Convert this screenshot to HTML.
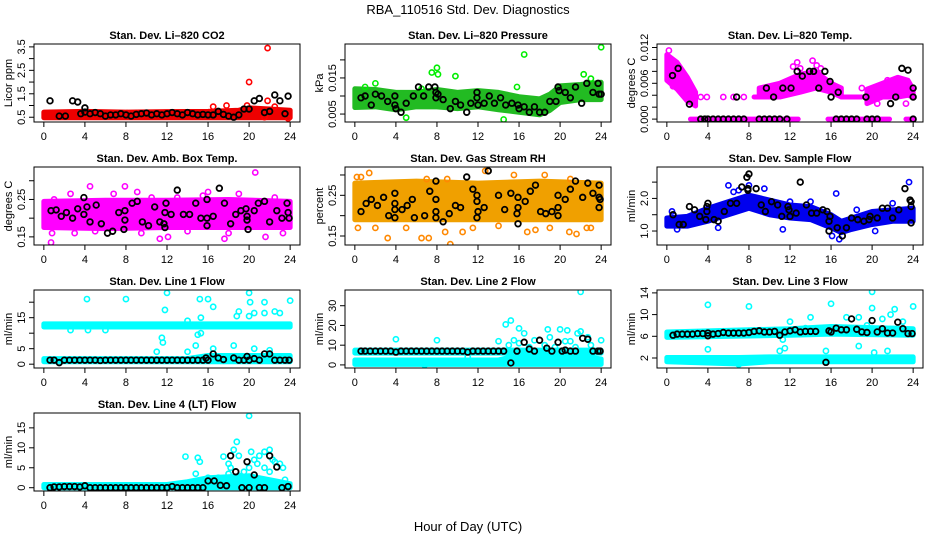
<!DOCTYPE html>
<html><head><meta charset="utf-8"><style>
html,body{margin:0;padding:0;background:#fff;}
svg{display:block;font-family:"Liberation Sans",sans-serif;}
</style></head><body>
<svg id="chart" width="936" height="540" viewBox="0 0 936 540">
<text x="468" y="14" text-anchor="middle" font-size="13">RBA_110516  Std. Dev. Diagnostics</text>
<text x="468" y="531" text-anchor="middle" font-size="13">Hour of Day (UTC)</text>
</svg>
<script>
// ---- data (hour, lo, hi) bands, colored outliers [hour,value], black points [hour,value]
const xTicks = [0,4,8,12,16,20,24];

const co2Band = [[[0,0.48,0.72],[4,0.48,0.75],[8,0.48,0.72],[12,0.48,0.74],[16,0.48,0.75],[19,0.48,0.8],[20,0.48,0.9],[22,0.48,0.85],[24,0.48,0.8]]];
const co2Pts = [[20,2.0],[21.8,3.45],[16.5,0.95],[17.8,1.0],[19.8,1.0],[21.8,1.2],[22.5,0.95],[23.8,0.45],[21.5,0.5]];
const co2Black = [[0.6,1.2],[1.5,0.55],[2.1,0.55],[2.8,1.2],[3.3,1.15],[3.6,0.65],[4,0.9],[4,0.72],[4.5,0.65],[5,0.7],[5.5,0.65],[6,0.55],[6.5,0.6],[7,0.6],[7.5,0.65],[8,0.6],[8.5,0.55],[9,0.62],[9.5,0.65],[10,0.68],[10.5,0.6],[11,0.65],[11.5,0.6],[12,0.65],[12.5,0.7],[13,0.65],[13.5,0.6],[14,0.7],[14.5,0.65],[15,0.6],[15.5,0.62],[16,0.6],[16.5,0.6],[17,0.75],[17.5,0.62],[18,0.55],[18.5,0.5],[19,0.6],[19.5,0.85],[20,0.85],[20.5,1.2],[21,1.3],[21.5,0.7],[22,0.75],[22.5,1.45],[23,1.2],[23.5,0.65],[23.8,1.4]];

const presBand = [[[0,0.0068,0.012],[2,0.007,0.0118],[4,0.0062,0.011],[6,0.007,0.011],[8,0.007,0.0118],[10,0.0065,0.011],[12,0.007,0.0115],[14,0.0062,0.011],[16,0.0055,0.0098],[18,0.0048,0.0092],[19,0.006,0.0105],[20,0.0082,0.0128],[22,0.009,0.0132],[24,0.009,0.0138]]];
const presPts = [[16.5,0.0215],[24,0.0235],[7.5,0.0165],[8,0.0178],[8.1,0.016],[9.8,0.0155],[14.5,0.0035],[5,0.004],[22.3,0.016],[15.8,0.0125],[2,0.0135],[23,0.0148],[1,0.0125],[6.5,0.012]];
const presBlack = [[0.6,0.0095],[1,0.01],[1.6,0.0075],[2,0.0105],[2.6,0.01],[3.2,0.0085],[3.9,0.01],[3.9,0.0075],[4,0.0065],[4.5,0.0055],[5,0.008],[5.7,0.01],[6.2,0.0125],[6.7,0.01],[7.2,0.0125],[7.8,0.0125],[7.9,0.011],[7.9,0.0095],[8.1,0.0105],[8.6,0.009],[9.3,0.0065],[9.8,0.0085],[10.3,0.0075],[10.9,0.0055],[11.3,0.008],[11.9,0.011],[11.9,0.0095],[12,0.0075],[12.6,0.008],[13.1,0.01],[13.6,0.008],[14.2,0.0095],[14.7,0.0075],[15.3,0.008],[15.9,0.0075],[16,0.0065],[16.5,0.007],[17,0.0055],[17.5,0.007],[18,0.0055],[18.5,0.0055],[19,0.0085],[19.6,0.0085],[19.8,0.0125],[19.9,0.0115],[20.5,0.011],[21,0.0095],[21.5,0.0125],[22.1,0.008],[22.6,0.0135],[23.2,0.011],[23.7,0.0135],[23.8,0.0105],[24,0.0105]];

const tempBand = [
 [[0,0.0065,0.0108],[1,0.005,0.0095],[2,0.003,0.007],[2.8,0.0022,0.0045]],
 [[2.3,0,0],[12.8,0,0]],[[15.7,0,0],[21.7,0,0]],[[23.3,0,0],[24,0,0]],
 [[8.5,0.0037,0.0037],[9,0.0037,0.0037]],
 [[9,0.0037,0.0052],[11,0.0037,0.006],[13,0.0045,0.0075],[14.5,0.0052,0.008],[16,0.0045,0.006],[17,0.0037,0.0052]],
 [[17,0.0037,0.0037],[19,0.0037,0.0037]],
 [[19.5,0.0026,0.005],[21,0.0037,0.006],[22.5,0.0037,0.007],[23.5,0.004,0.0065],[24,0.0037,0.005]]];
const tempPts = [[0.2,0.0115],[12.7,0.0095],[14.2,0.0098],[14.6,0.009],[13,0.0085],[0.6,0.0055],[3.3,0.0037],[3.9,0.0037],[5.5,0.0037],[6.5,0.0037],[7.5,0.0037],[20.5,0.0026],[23.3,0.0026],[19,0.0052],[12.3,0.0088],[15,0.0085],[21.5,0.0065]];
const tempBlack = [[0.55,0.0073],[1.1,0.0085],[2.2,0.0025],[6.8,0.0037],[9.7,0.0052],[10.4,0.0037],[11.3,0.0052],[12.1,0.0052],[12.7,0.008],[13.2,0.0072],[13.9,0.008],[14.3,0.008],[14.8,0.0052],[15.4,0.008],[15.9,0.0063],[16,0.0037],[16.7,0.0045],[19.4,0.0037],[21.8,0.0026],[22.3,0.0037],[22.9,0.0085],[23.5,0.0082],[24,0.0052],[24,0.0037],[3.3,0],[3.7,0],[4,0],[4.5,0],[5,0],[5.5,0],[6,0],[6.5,0],[7,0],[7.5,0],[9,0],[9.5,0],[10,0],[10.5,0],[11,0],[11.7,0],[16.5,0],[17,0],[17.5,0],[18,0],[18.5,0],[19.5,0],[20,0],[20.5,0],[24,0]];

const ambBand = [[[0,0.175,0.245],[6,0.172,0.248],[12,0.175,0.248],[18,0.175,0.25],[24,0.175,0.245]]];
const ambPts = [[0.7,0.135],[4.5,0.285],[7.9,0.285],[9.1,0.27],[20.6,0.322],[11.3,0.145],[12.1,0.15],[17.6,0.145],[21.6,0.15],[2.6,0.265],[0.8,0.16],[6.8,0.265],[16,0.27],[14,0.165],[9.5,0.16],[19,0.265],[23.3,0.16],[1,0.25],[3,0.16],[5,0.165],[13,0.255],[22.5,0.255],[10.5,0.255],[18,0.16],[15.5,0.26]];
const ambBlack = [[0.7,0.22],[1.2,0.222],[1.7,0.205],[2.2,0.215],[2.8,0.2],[3.3,0.225],[3.9,0.255],[3.9,0.21],[4.2,0.23],[4.5,0.19],[5.1,0.235],[5.6,0.185],[6.2,0.16],[6.7,0.165],[7.3,0.215],[7.8,0.17],[7.9,0.22],[7.9,0.195],[8.6,0.24],[9.1,0.245],[9.6,0.19],[10.2,0.18],[10.8,0.23],[11.3,0.19],[11.7,0.185],[11.8,0.175],[11.9,0.24],[11.8,0.215],[12.4,0.21],[13,0.275],[13.6,0.21],[14.2,0.21],[14.8,0.24],[15.3,0.2],[15.9,0.25],[15.9,0.2],[15.9,0.18],[16.5,0.205],[17.1,0.28],[17.6,0.24],[18.2,0.185],[18.7,0.21],[19.2,0.22],[19.7,0.225],[19.8,0.205],[19.8,0.195],[19.9,0.17],[20.5,0.22],[20.9,0.24],[21.5,0.245],[22,0.19],[22.7,0.22],[23.2,0.2],[23.7,0.24],[23.8,0.215],[23.9,0.2]];

const rhBand = [[[0,0.19,0.28],[6,0.19,0.285],[12,0.19,0.28],[18,0.19,0.285],[24,0.19,0.28]]];
const rhPts = [[9.3,0.13],[12.7,0.31],[13,0.31],[1.4,0.305],[0.2,0.295],[0.6,0.295],[3.2,0.145],[6.5,0.145],[7.2,0.145],[8.8,0.16],[10.5,0.16],[16.8,0.16],[17.6,0.165],[20.9,0.16],[21.6,0.155],[22.6,0.17],[0.3,0.17],[23,0.17],[18.5,0.3],[9,0.29],[7,0.29],[5,0.17],[14,0.175],[19,0.17],[2,0.17],[11.5,0.17],[15.5,0.3],[21,0.29]];
const rhBlack = [[0.6,0.21],[1.1,0.23],[1.6,0.24],[2.2,0.225],[2.8,0.245],[3.3,0.2],[3.9,0.255],[3.9,0.23],[3.9,0.215],[3.9,0.195],[4.6,0.215],[5.1,0.225],[5.6,0.24],[5.8,0.195],[6.8,0.2],[7.3,0.26],[7.9,0.285],[7.9,0.24],[7.9,0.21],[7.9,0.195],[8.6,0.185],[9.2,0.205],[9.8,0.225],[10.3,0.22],[10.9,0.295],[11.5,0.265],[11.9,0.25],[11.9,0.235],[12,0.21],[11.9,0.195],[12.6,0.22],[13,0.31],[14,0.25],[14.6,0.215],[15.2,0.255],[15.8,0.205],[15.9,0.245],[15.9,0.22],[15.9,0.18],[16.6,0.235],[17.1,0.26],[17.6,0.275],[18.1,0.21],[18.6,0.205],[19.2,0.21],[19.8,0.25],[19.8,0.22],[19.8,0.2],[20.5,0.24],[21,0.265],[21.5,0.285],[22.2,0.245],[22.7,0.28],[23.2,0.255],[23.8,0.275],[23.8,0.245],[23.8,0.22],[23.9,0.24]];

const flowBand = [[[0,1.15,1.4],[2,1.15,1.45],[4,1.3,1.7],[6,1.5,1.9],[8,1.7,2.1],[10,1.5,1.95],[12,1.4,1.8],[14,1.35,1.75],[16,1.1,1.5],[17,0.95,1.3],[18,1.05,1.4],[20,1.2,1.6],[22,1.3,1.65],[24,1.3,1.7]]];
const flowPts = [[6,2.4],[8,2.4],[16.5,2.15],[23.6,2.5],[16.8,0.75],[16.1,0.85],[11.3,1.05],[20.3,1.0],[6.5,2.2],[9.5,2.3],[7,2.25],[5,1.1],[0.5,1.6],[1,1.05],[12,1.9],[14,1.9],[18.5,1.65],[22,1.85]];
const flowBlack = [[0.6,1.5],[1.2,1.2],[1.6,1.2],[2.2,1.75],[2.7,1.65],[3.2,1.45],[3.8,1.35],[3.9,1.6],[3.9,1.75],[4,1.85],[4.6,1.35],[5,1.3],[5.6,1.6],[6.2,1.85],[6.8,1.85],[7.3,2.35],[7.8,2.65],[8,2.75],[7.9,2.3],[7.9,2.25],[8.7,2.3],[9.2,1.8],[9.6,1.6],[10.2,1.9],[10.8,1.8],[11.2,1.45],[11.8,1.75],[11.9,1.65],[12,1.45],[12.6,1.55],[13,2.5],[13.6,1.8],[14.1,1.55],[14.6,1.55],[15.2,1.65],[15.6,1.6],[15.8,1.3],[15.9,1.45],[15.8,1.0],[16.6,1.1],[17.1,0.85],[17.5,1.1],[18,1.4],[18.6,1.35],[19.2,1.3],[19.7,1.35],[19.8,1.45],[20.5,1.4],[21,1.7],[21.5,1.7],[22,1.4],[22.6,1.65],[23.2,2.3],[23.7,1.95],[23.8,1.9],[23.8,1.75],[23.8,1.25]];

const l1Band = [[[0,12,13],[12,12,13],[24,12,13]],[[0,0.8,1.8],[14,0.8,1.8],[16,0.8,2.8],[24,0.8,2.8]]];
const l1Pts = [[4.2,21],[8,21],[12,23],[11.8,17.5],[11.5,8.5],[11.6,7],[11,4],[15.2,21],[16,21],[16.5,18.5],[20,23],[20.1,20],[21.5,20],[22.5,17],[24,20.5],[14,4],[15,9.5],[15.3,10],[14.8,6],[16.5,5],[18.5,6],[19,17],[18.8,15.5],[20,15.5],[20.5,16.5],[21.5,16.5],[23,16.5],[15.3,15],[14,14],[20.5,5],[22,4.5],[2.6,11],[6,11],[4.3,11]];
const l1Black = [[0.6,1.3],[1,1.3],[1.5,0.5],[2,1.3],[2.5,1.3],[3,1.3],[3.5,1.3],[4,1.3],[4.5,1.3],[5,1.3],[5.5,1.2],[6,1.3],[6.5,1.3],[7,1.3],[7.5,1.3],[8,1.3],[8.5,1.3],[9,1.3],[9.5,1.3],[10,1.3],[10.5,1.3],[11,1.3],[11.5,1.3],[12,1.3],[12.5,1.3],[13,1.3],[13.5,1.3],[14,1.3],[14.5,1.3],[15,1.3],[15.5,1.3],[15.8,2],[16,1.3],[16.5,3.3],[17,2],[17.5,1.5],[18.5,2],[19,1.3],[19.5,1.3],[19.8,2.5],[20,1.3],[20.5,1.8],[21,1.3],[21.5,3.3],[22,3.3],[22.5,1.3],[23,1.3],[23.5,1.3],[23.9,1.3]];

const l2Band = [[[0,6,7.5],[12,6,7.5],[24,6,7.5]],[[0,0.3,2.5],[14,0.3,2.5],[16,0.3,5],[20,0.3,6],[24,0.3,3]]];
const l2Pts = [[4,13],[8,12.5],[14.7,20.5],[15.2,22.5],[16,18.5],[16.5,16],[18.8,18],[20,18],[20.7,17.5],[21.7,16],[22,17],[22,37],[24,12.5],[14,12],[15.5,12.5],[17.5,12.5],[19,14],[21,12],[22.7,14],[16,11],[20.5,12],[15,10],[18.5,10],[19.5,9],[21.5,9],[23,10],[17,9],[6.8,0],[11,4]];
const l2Black = [[0.6,7],[1,7],[1.5,7],[2,7],[2.5,7],[3,7],[3.5,7],[4,6.5],[4.5,7],[5,7],[5.5,7],[6,7],[6.5,7],[7,7],[7.5,7],[8,7],[8.5,7],[9,7],[9.5,7],[10,7],[10.5,7],[11,6.5],[11.5,7],[12,7],[12.5,7],[13,7],[13.5,7],[14,7],[14.5,7],[15.2,1],[15.8,7],[16.5,11.5],[17,8],[17.5,7],[18,12.5],[18.7,8.5],[19.2,7],[19.8,11.5],[20.2,7],[20.5,7.5],[21,7],[21.5,7],[22.2,13.5],[22.7,13],[23.2,7],[23.7,7],[23.9,7]];

const l3Band = [[[0,5.8,6.8],[12,6.2,7.4],[16,6.4,7.8],[24,6.2,7.4]],[[0,1.3,2.1],[7,0.9,2.1],[10,1.3,2.2],[24,1.3,2.2]]];
const l3Pts = [[4,11.8],[4,3.6],[8,11.5],[12,8.7],[11,3.3],[11.3,5.4],[11.5,3.8],[14,9.5],[15.5,3.3],[16,12],[17.5,9.5],[18.7,9.5],[18.7,4.2],[20,14.2],[20,11.2],[20.2,3],[21,9.2],[21.8,10],[22.2,11],[21.5,3.3],[23,8.7],[24,11.5],[7,0.8],[13.5,7.5],[19.5,8]];
const l3Black = [[0.6,6.2],[1,6.4],[1.5,6.4],[2,6.4],[2.5,6.4],[3,6.5],[3.5,6.5],[4,6.6],[4,6.1],[4.5,6.4],[5,6.5],[5.5,6.7],[6,6.6],[6.5,6.6],[7,6.6],[7.5,6.6],[8,6.7],[8.5,6.9],[9,7],[9.5,6.8],[10,6.8],[10.5,6.9],[11,6.2],[11.5,6.8],[12,7],[12.5,7.2],[13,6.8],[13.5,6.9],[14,6.9],[14.5,6.9],[15.5,1.2],[15.8,7],[16,6.8],[16.5,7.5],[17,7.2],[17.5,7.2],[18,9.2],[18.5,7.3],[19,6.8],[19.5,6.7],[20,8.9],[20.5,6.8],[21,7.4],[21.5,6.6],[22,6.6],[22.5,8.6],[23,7.4],[23.5,6.5],[23.9,6.5]];

const l4Band = [[[0,0,0.8],[12,0,0.8],[14,0,1.5],[16,0,2.5],[20,0,3],[24,0,1]]];
const l4Pts = [[13.8,7.8],[15,7.5],[15.2,6.5],[14.8,3.5],[17.5,7.8],[18,6],[18.5,9.5],[18.8,11.5],[19,8],[19.5,4],[20,18],[20.2,9],[20.5,7],[21,8],[21.5,9],[22,9.5],[22.5,6.5],[23,6],[23.3,5],[19,3],[20,5],[21.5,5],[22,4],[18,3.5],[17,2.5],[16,2.5],[23.5,2],[21,2],[18.2,5],[20.8,6],[22.3,7]];
const l4Black = [[0.6,0],[1,0.2],[1.5,0.2],[2,0.3],[2.5,0.3],[3,0.3],[3.5,0.2],[4,0.5],[4.5,0],[5,0],[5.5,0],[6,0],[6.5,0],[7,0],[7.5,0],[8,0],[8.5,0],[9,0],[9.5,0],[10,0],[10.5,0],[11,0],[11.5,0],[12,0],[12.5,0.3],[13,0],[13.5,0],[14,0],[14.5,0],[15,0],[15.5,0],[16,1.7],[16.6,1.7],[17.2,0.6],[17.8,0.5],[18.2,8],[18.7,4],[19.3,0],[19.8,6.5],[20,0],[20.5,3.2],[21,0],[21.5,0],[22,8],[22.7,5.2],[23.2,0],[23.8,0.3]];

// ---- panel layout
const colX = [34,345,657], rowY = [44,167,290,413], PW = 266, PH = 78;
const panels = [
 {name:'co2',title:'Stan. Dev. Li\u2013820 CO2',ylab:'Licor ppm',c:0,r:0,ylim:[0.42,3.5],ticks:[0.5,1,1.5,2,2.5,3,3.5],labels:[0.5,1.5,2.5,3.5],fmt:1,color:'#ff0000',fill:'#ee0000',band:co2Band,pts:co2Pts,blk:co2Black},
 {name:'pressure',title:'Stan. Dev. Li\u2013820 Pressure',ylab:'kPa',c:1,r:0,ylim:[0.0036,0.0236],ticks:[0.005,0.01,0.015,0.02],labels:[0.005,0.015],fmt:3,color:'#00ee00',fill:'#22bb22',band:presBand,pts:presPts,blk:presBlack},
 {name:'temp',title:'Stan. Dev. Li\u2013820 Temp.',ylab:'degrees C',c:2,r:0,ylim:[0,0.0121],ticks:[0,0.002,0.004,0.006,0.008,0.01,0.012],labels:[0,0.006,0.012],fmt:3,color:'#ff00ff',fill:'#ff00ff',band:tempBand,pts:tempPts,blk:tempBlack},
 {name:'amb-box-temp',title:'Stan. Dev. Amb. Box Temp.',ylab:'degrees C',c:0,r:1,ylim:[0.136,0.329],ticks:[0.15,0.2,0.25,0.3],labels:[0.15,0.25],fmt:2,color:'#ff00ff',fill:'#ff00ff',band:ambBand,pts:ambPts,blk:ambBlack},
 {name:'gas-stream-rh',title:'Stan. Dev. Gas Stream RH',ylab:'percent',c:1,r:1,ylim:[0.135,0.3125],ticks:[0.15,0.2,0.25,0.3],labels:[0.15,0.25],fmt:2,color:'#ff8800',fill:'#f0a000',band:rhBand,pts:rhPts,blk:rhBlack},
 {name:'sample-flow',title:'Stan. Dev. Sample Flow',ylab:'ml/min',c:2,r:1,ylim:[0.66,2.875],ticks:[1,1.5,2,2.5],labels:[1,2],fmt:1,color:'#0000ff',fill:'#0000ee',band:flowBand,pts:flowPts,blk:flowBlack},
 {name:'line1-flow',title:'Stan. Dev. Line 1 Flow',ylab:'ml/min',c:0,r:2,ylim:[-0.3,23],ticks:[0,5,10,15,20],labels:[0,5,15],fmt:0,color:'#00ffff',fill:'#00ffff',band:l1Band,pts:l1Pts,blk:l1Black},
 {name:'line2-flow',title:'Stan. Dev. Line 2 Flow',ylab:'ml/min',c:1,r:2,ylim:[-0.1,36.5],ticks:[0,10,20,30],labels:[0,10,20,30],fmt:0,color:'#00ffff',fill:'#00ffff',band:l2Band,pts:l2Pts,blk:l2Black},
 {name:'line3-flow',title:'Stan. Dev. Line 3 Flow',ylab:'ml/min',c:2,r:2,ylim:[0.69,14],ticks:[2,6,10,14],labels:[2,6,10,14],fmt:0,color:'#00ffff',fill:'#00ffff',band:l3Band,pts:l3Pts,blk:l3Black},
 {name:'line4-flow',title:'Stan. Dev. Line 4 (LT) Flow',ylab:'ml/min',c:0,r:3,ylim:[-0.1,18],ticks:[0,5,10,15],labels:[0,5,10,15],fmt:0,color:'#00ffff',fill:'#00ffff',band:l4Band,pts:l4Pts,blk:l4Black}
];

const svg = document.getElementById('chart');
const NS = 'http://www.w3.org/2000/svg';
function mk(tag, attrs, parent){const e=document.createElementNS(NS,tag);for(const k in attrs)e.setAttribute(k,attrs[k]);(parent||svg).appendChild(e);return e;}

panels.forEach(p=>{
  const L=colX[p.c], T=rowY[p.r];
  const g = mk('g',{});
  
  
  const padX = PW*0.04/1.08, padY = PH*0.04/1.08;
  const xs = h => L + padX + (h/24)*(PW-2*padX);
  const ys = v => T + PH - padY - (v-p.ylim[0])/(p.ylim[1]-p.ylim[0])*(PH-2*padY);
  const clip = mk('clipPath',{id:'clip-'+p.name},g);
  mk('rect',{x:L,y:T,width:PW,height:PH},clip);
  const plot = mk('g',{'clip-path':'url(#clip-'+p.name+')'},g);
  // bands
  p.band.forEach((seg,i)=>{
    const up = seg.map(s=>xs(s[0])+','+ys(s[2]));
    const dn = seg.slice().reverse().map(s=>xs(s[0])+','+ys(s[1]));
    const poly = mk('polygon',{points:up.concat(dn).join(' '),fill:p.fill,stroke:p.fill,'stroke-width':5,'stroke-linejoin':'round'},plot);
    
    
  });
  p.pts.forEach(d=>{
    const c = mk('circle',{cx:xs(d[0]),cy:ys(d[1]),r:2.6,fill:'none',stroke:p.color,'stroke-width':1.6},plot);
    
    
  });
  p.blk.forEach(d=>{
    const c = mk('circle',{cx:xs(d[0]),cy:ys(d[1]),r:2.8,fill:'none',stroke:'#000','stroke-width':1.8},plot);
    
    
  });
  const box = mk('rect',{x:L,y:T,width:PW,height:PH,fill:'none',stroke:'#000','stroke-width':1},g);
  
  
  const tt = mk('text',{x:L+PW/2,y:T-5,'text-anchor':'middle','font-size':11,'font-weight':'bold'},g);
  tt.textContent = p.title;
  
  
  // x axis
  xTicks.forEach(h=>{
    mk('line',{x1:xs(h),x2:xs(h),y1:T+PH,y2:T+PH+5,stroke:'#000'},g);
    const t = mk('text',{x:xs(h),y:T+PH+18,'text-anchor':'middle','font-size':11},g);
    t.textContent = h;
    
    
  });
  // y axis
  p.ticks.forEach(v=>{
    mk('line',{x1:L,x2:L-5,y1:ys(v),y2:ys(v),stroke:'#000'},g);
  });
  p.labels.forEach(v=>{
    const x = L-9, y = ys(v);
    const t = mk('text',{x:x,y:y,'text-anchor':'middle','font-size':11,transform:'rotate(-90 '+x+' '+y+')'},g);
    t.textContent = v.toFixed(p.fmt);
    
    
  });
  const yx = L-22, yy = T+PH/2;
  const yl = mk('text',{x:yx,y:yy,'text-anchor':'middle','font-size':11,transform:'rotate(-90 '+yx+' '+yy+')'},g);
  yl.textContent = p.ylab;
  
  
});
</script>
</body></html>
